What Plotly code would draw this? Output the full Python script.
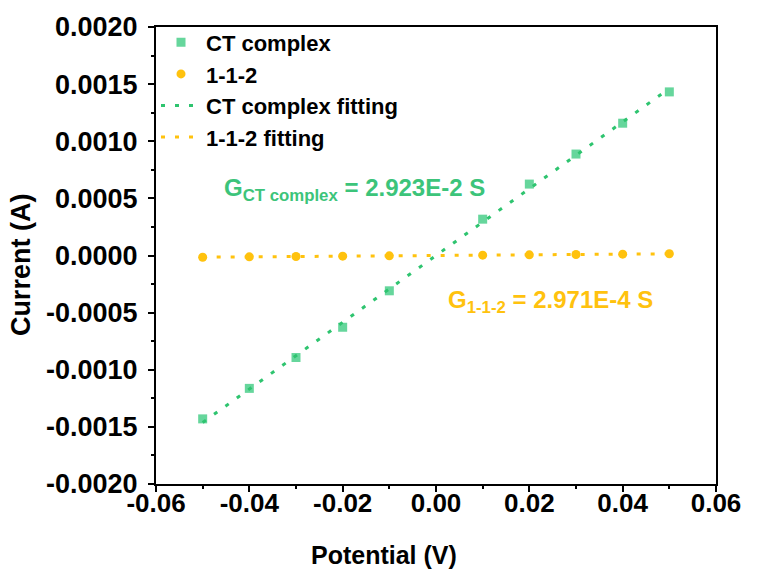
import plotly.graph_objects as go

potential = [-0.05, -0.04, -0.03, -0.02, -0.01, 0.01, 0.02, 0.03, 0.04, 0.05]
ct_current = [-0.00143, -0.001163, -0.000893, -0.000628, -0.000309, 0.000318, 0.000625, 0.000888, 0.001158, 0.001432]
c112_current = [-0.0000149, -0.0000119, -0.0000089, -0.0000060, -0.0000030, 0.0000030, 0.0000060, 0.0000089, 0.0000119, 0.0000149]

fit_x = [-0.05, 0.05]
ct_slope = 2.923e-2
c112_slope = 2.971e-4
ct_fit = [ct_slope * v for v in fit_x]
c112_fit = [c112_slope * v for v in fit_x]

x_ticks = [-0.06, -0.04, -0.02, 0.0, 0.02, 0.04, 0.06]
x_ticklabels = ["-0.06", "-0.04", "-0.02", "0.00", "0.02", "0.04", "0.06"]
y_ticks = [-0.002, -0.0015, -0.001, -0.0005, 0.0, 0.0005, 0.001, 0.0015, 0.002]
y_ticklabels = ["-0.0020", "-0.0015", "-0.0010", "-0.0005", "0.0000", "0.0005", "0.0010", "0.0015", "0.0020"]

GREEN_M = "#66d69c"
GREEN_L = "#2ec46f"
GREEN_T = "#3cc47a"
YELLOW = "#ffc20e"
FONT = "Liberation Sans, Arial, sans-serif"

fig = go.Figure()
fig.add_trace(go.Scatter(x=potential, y=ct_current, mode="markers", name="CT complex",
                         marker=dict(symbol="square", size=9, color=GREEN_M)))
fig.add_trace(go.Scatter(x=potential, y=c112_current, mode="markers", name="1-1-2",
                         marker=dict(symbol="circle", size=9, color=YELLOW)))
fig.add_trace(go.Scatter(x=fit_x, y=ct_fit, mode="lines", name="CT complex fitting",
                         line=dict(color=GREEN_L, width=3, dash="4px,10px")))
fig.add_trace(go.Scatter(x=fit_x, y=c112_fit, mode="lines", name="1-1-2 fitting",
                         line=dict(color=YELLOW, width=3, dash="4px,10px")))

fig.add_annotation(x=-0.0174, y=0.00058, xref="x", yref="y", showarrow=False,
                   text="G<sub>CT complex</sub> = 2.923E-2 S",
                   font=dict(family=FONT, size=24, color=GREEN_T, weight="bold"))
fig.add_annotation(x=0.0245, y=-0.0004, xref="x", yref="y", showarrow=False,
                   text="G<sub>1-1-2</sub> = 2.971E-4 S",
                   font=dict(family=FONT, size=24, color=YELLOW, weight="bold"))

# axis titles
fig.add_annotation(x=0.407, y=-0.155, xref="paper", yref="paper", showarrow=False,
                   xanchor="center", yanchor="middle", text="Potential (V)",
                   font=dict(family=FONT, size=25, color="black", weight="bold"))
fig.add_annotation(x=-0.242, y=0.48, xref="paper", yref="paper", showarrow=False,
                   xanchor="center", yanchor="middle", text="Current (A)", textangle=-90,
                   font=dict(family=FONT, size=27, color="black", weight="bold"))

axis_common = dict(showline=True, linecolor="black", linewidth=2, mirror=True,
                   ticks="outside", ticklen=6, tickwidth=2, tickcolor="black",
                   showgrid=False, zeroline=False,
                   minor=dict(ticks="outside", ticklen=3, tickwidth=2, tickcolor="black", showgrid=False))

fig.update_xaxes(range=[-0.06, 0.06], tickvals=x_ticks, ticktext=x_ticklabels,
                 ticklabelstandoff=-11,
                 tickfont=dict(family=FONT, size=26, color="black", weight="bold"),
                 **axis_common)
fig.update_yaxes(range=[-0.002, 0.002], tickvals=y_ticks, ticktext=y_ticklabels,
                 ticklabelstandoff=5,
                 tickfont=dict(family=FONT, size=27, color="black", weight="bold"),
                 **axis_common)
fig.update_xaxes(minor=dict(tickvals=[-0.05, -0.03, -0.01, 0.01, 0.03, 0.05]))
fig.update_yaxes(minor=dict(tickvals=[-0.00175, -0.00125, -0.00075, -0.00025, 0.00025, 0.00075, 0.00125, 0.00175]))

fig.update_layout(width=757, height=575,
                  margin=dict(l=156, r=41, t=25, b=91),
                  paper_bgcolor="white", plot_bgcolor="white",
                  showlegend=True,
                  legend=dict(x=0.0, y=1.012, xanchor="left", yanchor="top",
                              bgcolor="rgba(0,0,0,0)", borderwidth=0,
                              font=dict(family=FONT, size=22, color="black", weight="bold"),
                              itemwidth=40))

fig.write_html("out.html")
